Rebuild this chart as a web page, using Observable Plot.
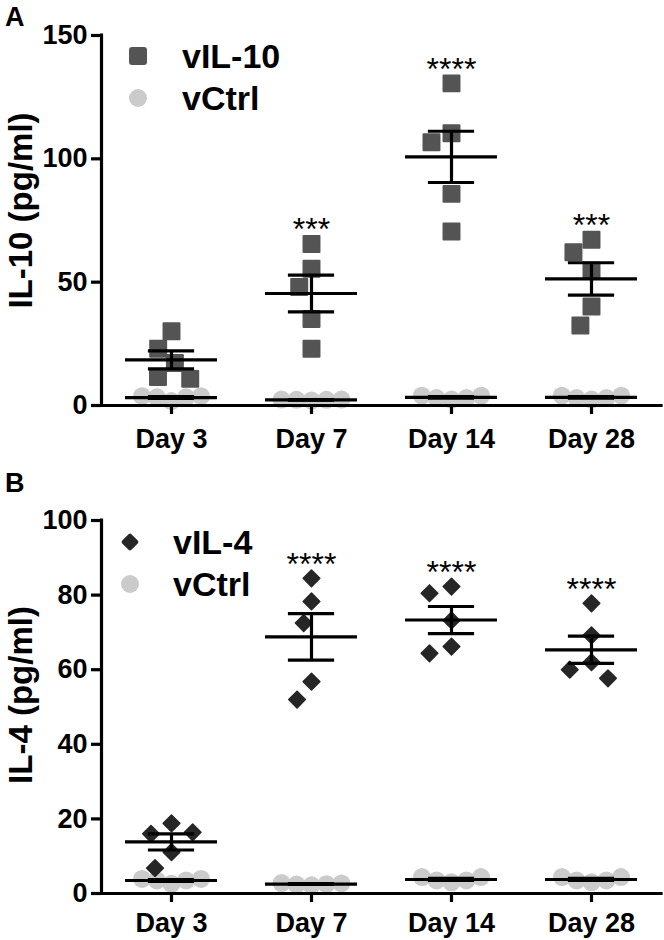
<!DOCTYPE html>
<html>
<head>
<meta charset="utf-8">
<script src="https://cdn.jsdelivr.net/npm/d3@7"></script>
<script src="https://cdn.jsdelivr.net/npm/@observablehq/plot@0.6"></script>
<style>
  body { margin: 0; background: #fff; font-family: "Liberation Sans", Arial, sans-serif; }
  #root { position: relative; width: 664px; height: 940px; overflow: hidden; }
  .panel { position: absolute; left: 0; width: 664px; height: 470px; }
  .panel svg { display: block; }
  .letter { position: absolute; font-weight: bold; font-size: 27px; line-height: 1; }
  .leg { position: absolute; font-weight: bold; font-size: 34px; line-height: 1; white-space: nowrap;
         transform: translateY(-50%); }
  .sym { position: absolute; transform: translate(-50%, -50%); }
</style>
</head>
<body>
<div id="root"></div>
<script>
// ---- Data ----
const days = ["Day 3", "Day 7", "Day 14", "Day 28"];

// Panel A: IL-10 (pg/ml)
const il10Title = "IL-10 (pg/ml)";
const il10Ticks = [0, 50, 100, 150];
const il10Treated = [
  [30.1, 23.0, 17.2, 11.5, 10.8],
  [65.5, 55.4, 48.0, 35.1, 23.0],
  [130.6, 110.4, 106.7, 85.8, 70.5],
  [67.2, 62.1, 54.7, 40.1, 32.4]
];
const il10Ctrl = [
  [1.8, 3.3, 3.3, 3.8, 3.8],
  [2.0, 2.3, 2.3, 2.4, 2.4],
  [2.4, 3.0, 3.0, 4.0, 4.0],
  [2.4, 3.0, 3.0, 4.0, 4.0]
];
const il10Stars = ["", "***", "****", "***"];

// Panel B: IL-4 (pg/ml)
const il4Title = "IL-4 (pg/ml)";
const il4Ticks = [0, 20, 40, 60, 80, 100];
const il4Treated = [
  [18.8, 16.0, 16.4, 11.1, 6.8],
  [84.5, 78.3, 72.5, 56.8, 52.0],
  [82.3, 80.5, 73.2, 66.2, 64.4],
  [77.8, 69.2, 62.0, 60.0, 57.7]
];
const il4Ctrl = [
  [2.6, 3.5, 3.5, 3.9, 3.9],
  [2.2, 2.4, 2.5, 2.7, 2.8],
  [3.0, 3.5, 3.5, 4.4, 4.4],
  [3.0, 3.5, 3.5, 4.4, 4.4]
];
const il4Stars = ["", "****", "****", "****"];

// ---- Helpers ----
const toRows = (values) => days.flatMap((d, i) => values[i].map((v) => ({day: d, value: v})));
const summarize = (values) => days.map((d, i) => {
  const m = d3.mean(values[i]);
  const se = d3.deviation(values[i]) / Math.sqrt(values[i].length);
  return {day: d, mean: m, lo: m - se, hi: m + se};
});

const MEAN_HALF = 0.657;  // half-width of mean line (x units of a facet)
const CAP_HALF = 0.33;    // half-width of SEM caps
const LW = 3.2;

function panel(cfg) {
  const tRows = toRows(cfg.treated);
  const cRows = toRows(cfg.ctrl);
  const stats = [...summarize(cfg.ctrl), ...summarize(cfg.treated)];
  const starRows = days.map((d, i) => ({day: d, top: d3.max(cfg.treated[i]), text: cfg.stars[i]}))
    .filter((r) => r.text);
  return Plot.plot({
    width: 664,
    height: 470,
    marginLeft: 101,
    marginRight: 3,
    marginTop: cfg.marginTop,
    marginBottom: cfg.marginBottom,
    style: {fontFamily: "Liberation Sans, Arial, sans-serif", background: "white", color: "black", overflow: "visible"},
    fx: {domain: days, padding: 0},
    x: {domain: [-1, 1], axis: null},
    y: {domain: [0, cfg.yMax]},
    marks: [
      Plot.dot(cRows, Plot.dodgeX({anchor: "middle", padding: -3},
        {fx: "day", y: "value", r: 9, symbol: "circle", fill: "#cbcbcb"})),
      Plot.dot(tRows, Plot.dodgeX({anchor: "middle", padding: cfg.symPad},
        {fx: "day", y: "value", r: cfg.symR, symbol: cfg.symbol, fill: cfg.symFill,
         stroke: cfg.symFill, strokeWidth: cfg.symStroke, strokeLinejoin: "round"})),
      Plot.ruleY(stats, {fx: "day", y: "mean", x1: -MEAN_HALF, x2: MEAN_HALF, strokeWidth: LW}),
      Plot.ruleY(stats, {fx: "day", y: "hi", x1: -CAP_HALF, x2: CAP_HALF, strokeWidth: LW}),
      Plot.ruleY(stats, {fx: "day", y: "lo", x1: -CAP_HALF, x2: CAP_HALF, strokeWidth: LW}),
      Plot.ruleX(stats, {fx: "day", x: 0, y1: "lo", y2: "hi", strokeWidth: LW}),
      Plot.text(starRows, {fx: "day", x: 0, y: "top", text: "text", dy: -14, fontSize: 32}),
      Plot.ruleY([0], {strokeWidth: LW, strokeLinecap: "square"}),
      Plot.ruleX([-1], {strokeWidth: LW, strokeLinecap: "square", facetAnchor: "left"}),
      Plot.axisY({ticks: cfg.ticks, tickSize: 10, tickPadding: 4, fontSize: 27, fontWeight: "bold",
                  strokeWidth: LW, label: null}),
      Plot.text([cfg.title], {text: (d) => d, frameAnchor: "left", textAnchor: "middle", lineAnchor: "middle",
                  rotate: -90, dx: -80, dy: cfg.titleDy,
                  fontSize: 33, fontWeight: "bold", facetAnchor: "left"}),
      Plot.axisFx({anchor: "bottom", tickSize: 9, tickPadding: cfg.dayPad, fontSize: 27, fontWeight: "bold",
                   strokeWidth: LW, label: null})
    ]
  });
}

const root = document.getElementById("root");
function add(html) { root.insertAdjacentHTML("beforeend", html); }

// Panel A
const divA = document.createElement("div");
divA.className = "panel"; divA.style.top = "0px";
divA.appendChild(panel({
  title: il10Title, titleDy: -10,
  treated: il10Treated, ctrl: il10Ctrl, stars: il10Stars, ticks: il10Ticks, yMax: 150,
  marginTop: 35, marginBottom: 65, dayPad: 14,
  symbol: "square", symR: 9, symFill: "#545454", symStroke: 2, symPad: 4
}));
root.appendChild(divA);

// Panel B
const divB = document.createElement("div");
divB.className = "panel"; divB.style.top = "470px";
divB.appendChild(panel({
  title: il4Title, titleDy: -12,
  treated: il4Treated, ctrl: il4Ctrl, stars: il4Stars, ticks: il4Ticks, yMax: 100,
  marginTop: 50, marginBottom: 47, dayPad: 10,
  symbol: "diamond2", symR: 7.5, symFill: "#262626", symStroke: 1.5, symPad: 8
}));
root.appendChild(divB);

// Panel letters
add('<div class="letter" style="left:5px;top:4px">A</div>');
add('<div class="letter" style="left:5px;top:470px">B</div>');

// Legends
add('<div class="sym" style="left:138px;top:56px;width:18px;height:18px;background:#545454;border-radius:3px"></div>');
add('<div class="leg" style="left:182px;top:56px">vIL-10</div>');
add('<div class="sym" style="left:138px;top:98px;width:18px;height:18px;background:#cbcbcb;border-radius:50%"></div>');
add('<div class="leg" style="left:182px;top:98px">vCtrl</div>');

add('<div class="sym" style="left:130px;top:542px;width:13px;height:13px;background:#262626;border-radius:2px;transform:translate(-50%,-50%) rotate(45deg)"></div>');
add('<div class="leg" style="left:173px;top:542px">vIL-4</div>');
add('<div class="sym" style="left:130px;top:584px;width:18px;height:18px;background:#cbcbcb;border-radius:50%"></div>');
add('<div class="leg" style="left:173px;top:584px">vCtrl</div>');
</script>
</body>
</html>
